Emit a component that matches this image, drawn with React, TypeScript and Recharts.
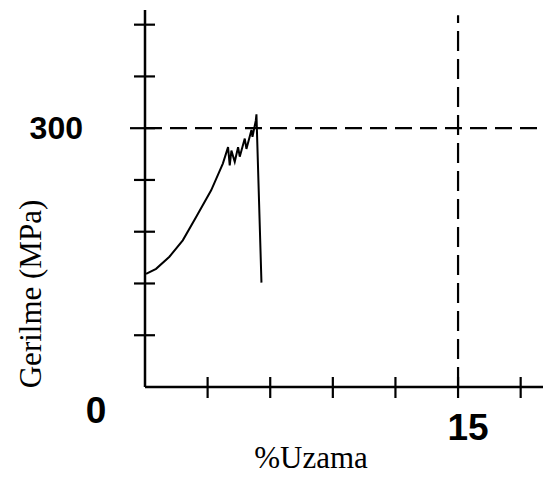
import { LineChart, Line, XAxis, YAxis, ReferenceLine } from "recharts";

// strain (%) and stress (MPa)
const strain = [
  0.05, 0.53, 1.17, 1.81, 2.45, 3.17, 3.73, 3.98, 4.06, 4.14, 4.3, 4.46, 4.54,
  4.78, 4.86, 5.1, 5.15, 5.31, 5.34, 5.58,
];
const stress = [
  131, 137, 151, 170, 197, 228, 259, 278, 257, 274, 261, 278, 267, 288, 276,
  298, 290, 309, 316, 121,
];

const xTicks = [3, 6, 9, 12, 15, 18];
const yTicks = [0, 60, 120, 180, 240, 300, 360, 420];

const data = strain.map((x, i) => ({ x, y: stress[i] }));

const SANS = "'Liberation Sans', Arial, sans-serif";
const SERIF = "'Liberation Serif', 'Times New Roman', serif";

function XTick({ x, y, payload }: any) {
  return (
    <g>
      <line x1={x} y1={y - 10} x2={x} y2={y + 11} stroke="#000" strokeWidth={2.2} />
      {payload.value === 15 && (
        <text x={x + 10} y={y + 53} textAnchor="middle" fontFamily={SANS} fontWeight="bold" fontSize={37} fill="#000">
          15
        </text>
      )}
    </g>
  );
}

function YTick({ x, y, payload }: any) {
  if (payload.value === 0) {
    return (
      <text x={x - 49} y={y + 36} textAnchor="middle" fontFamily={SANS} fontWeight="bold" fontSize={37} fill="#000">
        0
      </text>
    );
  }
  const is300 = payload.value === 300;
  return (
    <g>
      <line x1={x - (is300 ? 15 : 11)} y1={y} x2={x + 10} y2={y} stroke="#000" strokeWidth={2.2} />
      {is300 && (
        <text x={x - 62} y={y + 11} textAnchor="end" fontFamily={SANS} fontWeight="bold" fontSize={32} fill="#000">
          300
        </text>
      )}
    </g>
  );
}

export default function App() {
  return (
    <div style={{ position: "absolute", left: 0, top: 0, width: 548, height: 482, background: "#fff" }}>
      <LineChart width={548} height={482} data={data} margin={{ top: 10, right: 5, bottom: 0, left: 0 }}>
        <XAxis
          type="number"
          dataKey="x"
          domain={[0, 19.07]}
          ticks={xTicks}
          allowDataOverflow
          height={95}
          tickSize={0}
          tickMargin={0}
          tickLine={false}
          axisLine={{ stroke: "#000", strokeWidth: 2.5 }}
          tick={<XTick />}
          label={{
            value: "%Uzama",
            content: ({ viewBox }: any) => (
              <text x={viewBox.x + 166} y={viewBox.y + 81} textAnchor="middle" fontFamily={SERIF} fontSize={31} fill="#000">
                %Uzama
              </text>
            ),
          }}
        />
        <YAxis
          type="number"
          domain={[0, 437]}
          ticks={yTicks}
          allowDataOverflow
          width={145}
          tickSize={0}
          tickMargin={0}
          tickLine={false}
          axisLine={{ stroke: "#000", strokeWidth: 2.5 }}
          tick={<YTick />}
          label={{
            value: "Gerilme (MPa)",
            content: ({ viewBox }: any) => (
              <text
                x={30}
                y={viewBox.y + 284}
                transform={`rotate(-90 30 ${viewBox.y + 284})`}
                textAnchor="middle"
                dominantBaseline="central"
                fontFamily={SERIF}
                fontSize={31}
                fill="#000"
              >
                Gerilme (MPa)
              </text>
            ),
          }}
        />
        <ReferenceLine
          segment={[{ x: 0, y: 300 }, { x: 18.96, y: 300 }]}
          stroke="#000"
          strokeWidth={2.2}
          strokeDasharray="17 8"
          ifOverflow="visible"
        />
        <ReferenceLine
          segment={[{ x: 15, y: 0 }, { x: 15, y: 431 }]}
          stroke="#000"
          strokeWidth={2.2}
          strokeDasharray="20 8"
          ifOverflow="visible"
        />
        <Line
          type="linear"
          dataKey="y"
          stroke="#000"
          strokeWidth={2}
          dot={false}
          isAnimationActive={false}
        />
      </LineChart>
    </div>
  );
}
